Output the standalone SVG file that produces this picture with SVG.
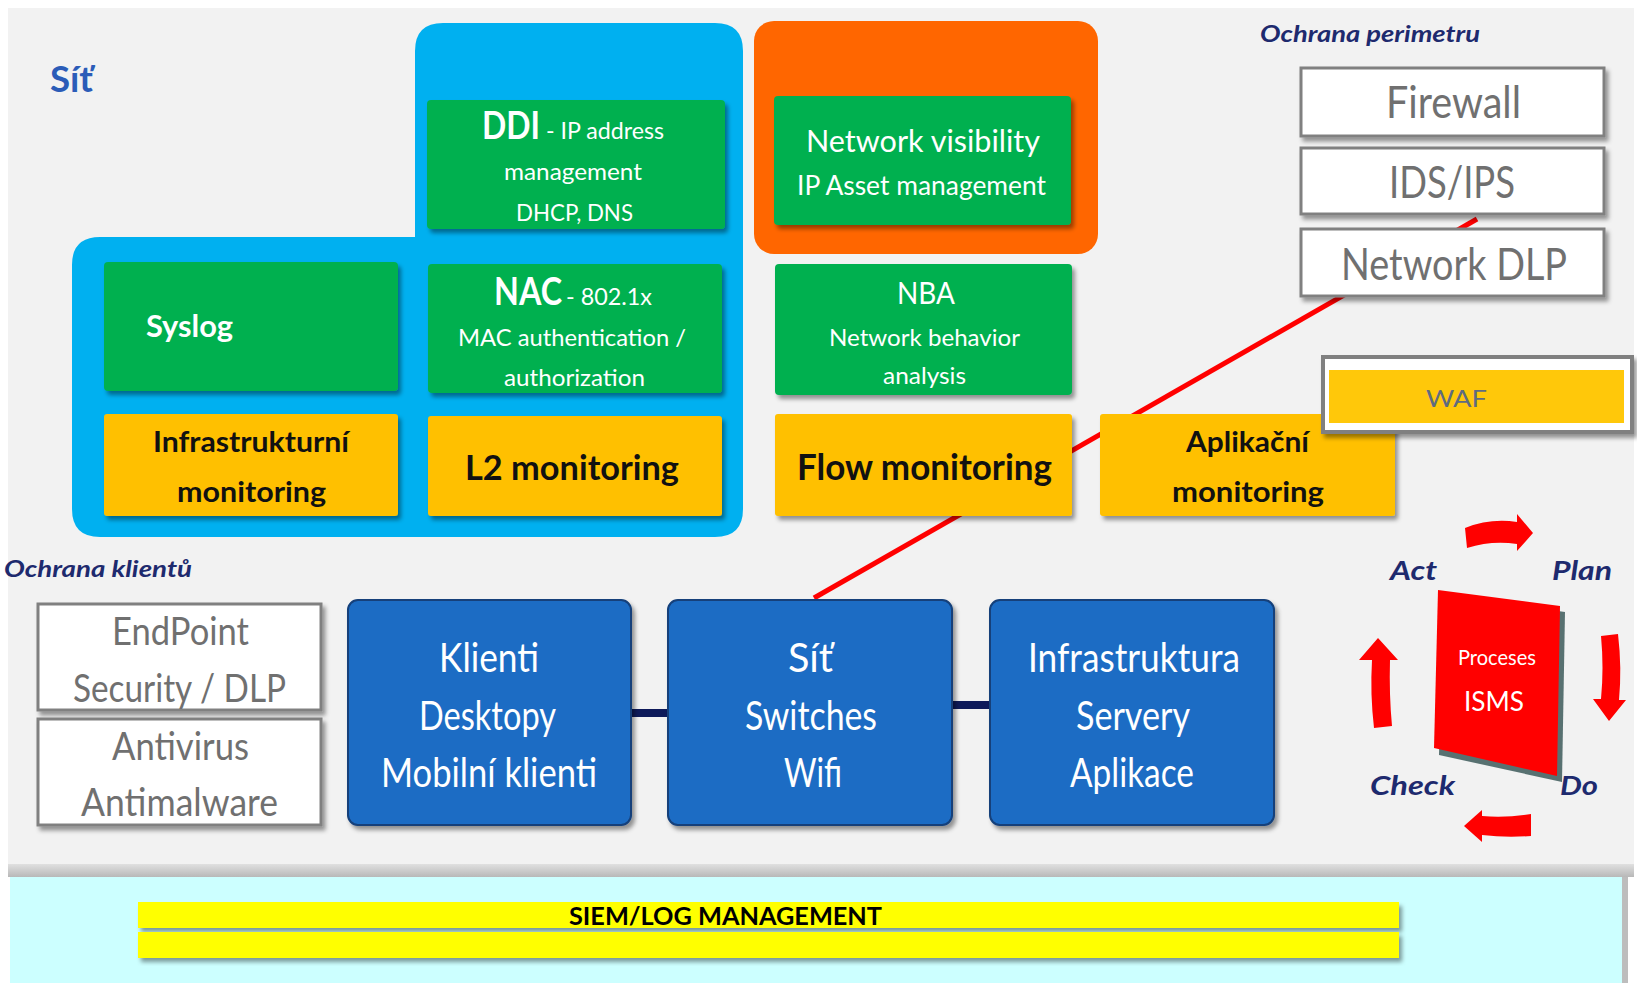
<svg xmlns="http://www.w3.org/2000/svg" width="1637" height="983" viewBox="0 0 1637 983">
<defs>
<style>
.t{font-family:Lato,"Open Sans","Liberation Sans",sans-serif}
.w{fill:#ffffff}
.k{fill:#111111;font-weight:bold}
.g{fill:#707070}
.nv{fill:#1e2a6e;font-weight:bold;font-style:italic}
.green{fill:#00b050}
.yel{fill:#ffc000}
.blue{fill:#1c6cc4;stroke:#123f7a;stroke-width:2}
.wbox{fill:#ffffff;stroke:#808080;stroke-width:3}
.arr{fill:#ff0000}
</style>
<filter id="sh" x="-10%" y="-10%" width="130%" height="140%">
<feDropShadow dx="3" dy="4" stdDeviation="2" flood-color="#000000" flood-opacity="0.4"/>
</filter>
<linearGradient id="bot" x1="0" y1="0" x2="0" y2="1">
<stop offset="0" stop-color="#e0e0e0"/>
<stop offset="1" stop-color="#b8b8b8"/>
</linearGradient>
</defs>
<rect x="0" y="0" width="1637" height="983" fill="#ffffff"/>
<rect x="8" y="8" width="1626" height="858" fill="#f2f2f2"/>
<rect x="8" y="864" width="1626" height="13" fill="url(#bot)"/>
<rect x="10" y="877" width="1612" height="106" fill="#ccffff"/>
<rect x="1622" y="877" width="6" height="106" fill="#bdbdbd"/>

<!-- containers -->
<g id="net-container">
<path d="M 443,23 H 715 Q 743,23 743,51 V 509 Q 743,537 715,537 H 100 Q 72,537 72,509 V 265 Q 72,237 100,237 H 415 V 51 Q 415,23 443,23 Z" fill="#00b0f0"/>
<text class="t" x="50" y="92" font-size="36" font-weight="bold" fill="#2b5cb8" textLength="43" lengthAdjust="spacingAndGlyphs">Síť</text>
</g>
<g id="orange-container">
<rect x="754" y="21" width="344" height="233" rx="20" fill="#ff6600"/>
</g>

<!-- connectors -->
<g id="connectors">
<line x1="1477" y1="219" x2="814" y2="598" stroke="#ff0000" stroke-width="5"/>
<rect x="630" y="709" width="40" height="8" fill="#0e1a5a"/>
<rect x="950" y="701" width="42" height="8" fill="#0e1a5a"/>
</g>

<g id="ddi">
<rect x="427" y="100" width="298" height="129" rx="4" class="green" filter="url(#sh)"/>
<text class="t w" x="482" y="139" font-size="38" font-weight="bold" textLength="58" lengthAdjust="spacingAndGlyphs">DDI</text>
<text class="t w" x="546" y="139" font-size="24" textLength="118" lengthAdjust="spacingAndGlyphs">- IP address</text>
<text class="t w" x="504" y="180" font-size="24" textLength="138" lengthAdjust="spacingAndGlyphs">management</text>
<text class="t w" x="516" y="221" font-size="24" textLength="117" lengthAdjust="spacingAndGlyphs">DHCP, DNS</text>
</g>
<g id="syslog">
<rect x="104" y="262" width="294" height="129" rx="4" class="green" filter="url(#sh)"/>
<text class="t w" x="146" y="337" font-size="30" font-weight="bold" textLength="87" lengthAdjust="spacingAndGlyphs">Syslog</text>
</g>
<g id="nac">
<rect x="428" y="264" width="294" height="129" rx="4" class="green" filter="url(#sh)"/>
<text class="t w" x="494" y="305" font-size="38" font-weight="bold" textLength="68" lengthAdjust="spacingAndGlyphs">NAC</text>
<text class="t w" x="566" y="305" font-size="24" textLength="86" lengthAdjust="spacingAndGlyphs">- 802.1x</text>
<text class="t w" x="458" y="346" font-size="24" textLength="228" lengthAdjust="spacingAndGlyphs">MAC authentication /</text>
<text class="t w" x="504" y="386" font-size="24" textLength="141" lengthAdjust="spacingAndGlyphs">authorization</text>
</g>
<g id="infra-mon">
<rect x="104" y="414" width="294" height="102" rx="3" class="yel" filter="url(#sh)"/>
<text class="t k" x="153" y="452" font-size="28" textLength="196" lengthAdjust="spacingAndGlyphs">Infrastrukturní</text>
<text class="t k" x="177" y="502" font-size="28" textLength="149" lengthAdjust="spacingAndGlyphs">monitoring</text>
</g>
<g id="l2-mon">
<rect x="428" y="416" width="294" height="100" rx="3" class="yel" filter="url(#sh)"/>
<text class="t k" x="465" y="480" font-size="35" textLength="214" lengthAdjust="spacingAndGlyphs">L2 monitoring</text>
</g>
<g id="netvis">
<rect x="774" y="96" width="297" height="129" rx="4" class="green" filter="url(#sh)"/>
<text class="t w" x="806" y="152" font-size="30" textLength="234" lengthAdjust="spacingAndGlyphs">Network visibility</text>
<text class="t w" x="797" y="195" font-size="27" textLength="249" lengthAdjust="spacingAndGlyphs">IP Asset management</text>
</g>
<g id="nba">
<rect x="775" y="264" width="297" height="131" rx="4" class="green" filter="url(#sh)"/>
<text class="t w" x="897" y="304" font-size="30" textLength="58" lengthAdjust="spacingAndGlyphs">NBA</text>
<text class="t w" x="829" y="346" font-size="24" textLength="191" lengthAdjust="spacingAndGlyphs">Network behavior</text>
<text class="t w" x="883" y="384" font-size="24" textLength="83" lengthAdjust="spacingAndGlyphs">analysis</text>
</g>
<g id="flow-mon">
<rect x="775" y="414" width="297" height="102" rx="3" class="yel" filter="url(#sh)"/>
<text class="t k" x="797" y="480" font-size="36" textLength="255" lengthAdjust="spacingAndGlyphs">Flow monitoring</text>
</g>
<g id="app-mon">
<rect x="1100" y="414" width="295" height="102" rx="3" class="yel" filter="url(#sh)"/>
<text class="t k" x="1186" y="452" font-size="28" textLength="123" lengthAdjust="spacingAndGlyphs">Aplikační</text>
<text class="t k" x="1172" y="502" font-size="28" textLength="152" lengthAdjust="spacingAndGlyphs">monitoring</text>
</g>

<g id="perimetr-label">
<text class="t nv" x="1260" y="42" font-size="22" textLength="220" lengthAdjust="spacingAndGlyphs">Ochrana perimetru</text>
</g>
<g id="firewall">
<rect x="1301" y="68" width="303" height="68" class="wbox" filter="url(#sh)"/>
<text class="t g" x="1386" y="118" font-size="44" textLength="135" lengthAdjust="spacingAndGlyphs">Firewall</text>
</g>
<g id="idsips">
<rect x="1301" y="148" width="303" height="66" class="wbox" filter="url(#sh)"/>
<text class="t g" x="1389" y="198" font-size="44" textLength="126" lengthAdjust="spacingAndGlyphs">IDS/IPS</text>
</g>
<g id="netdlp">
<rect x="1301" y="229" width="303" height="67" class="wbox" filter="url(#sh)"/>
<text class="t g" x="1341" y="280" font-size="44" textLength="226" lengthAdjust="spacingAndGlyphs">Network DLP</text>
</g>
<g id="waf">
<rect x="1323" y="357" width="309" height="75" fill="#ffffff" stroke="#808080" stroke-width="4" filter="url(#sh)"/>
<rect x="1329" y="370" width="295" height="53" fill="#ffc80a"/>
<text class="t" x="1426" y="407" font-size="24" fill="#5f6b80" textLength="61" lengthAdjust="spacingAndGlyphs">WAF</text>
</g>

<g id="klienti-label">
<text class="t nv" x="4" y="577" font-size="22" textLength="188" lengthAdjust="spacingAndGlyphs">Ochrana klientů</text>
</g>
<g id="endpoint">
<rect x="38" y="604" width="283" height="106" class="wbox" filter="url(#sh)"/>
<text class="t g" x="112" y="645" font-size="38" textLength="137" lengthAdjust="spacingAndGlyphs">EndPoint</text>
<text class="t g" x="73" y="702" font-size="38" textLength="213" lengthAdjust="spacingAndGlyphs">Security / DLP</text>
</g>
<g id="antivirus">
<rect x="38" y="719" width="283" height="106" class="wbox" filter="url(#sh)"/>
<text class="t g" x="112" y="760" font-size="38" textLength="137" lengthAdjust="spacingAndGlyphs">Antivirus</text>
<text class="t g" x="81" y="816" font-size="38" textLength="197" lengthAdjust="spacingAndGlyphs">Antimalware</text>
</g>
<g id="klienti">
<rect x="348" y="600" width="283" height="225" rx="10" class="blue" filter="url(#sh)"/>
<text class="t w" x="439" y="672" font-size="40" textLength="100" lengthAdjust="spacingAndGlyphs">Klienti</text>
<text class="t w" x="419" y="730" font-size="40" textLength="137" lengthAdjust="spacingAndGlyphs">Desktopy</text>
<text class="t w" x="381" y="787" font-size="40" textLength="216" lengthAdjust="spacingAndGlyphs">Mobilní klienti</text>
</g>
<g id="sit">
<rect x="668" y="600" width="284" height="225" rx="10" class="blue" filter="url(#sh)"/>
<text class="t w" x="788" y="672" font-size="40" textLength="45" lengthAdjust="spacingAndGlyphs">Síť</text>
<text class="t w" x="745" y="730" font-size="40" textLength="132" lengthAdjust="spacingAndGlyphs">Switches</text>
<text class="t w" x="784" y="787" font-size="40" textLength="58" lengthAdjust="spacingAndGlyphs">Wifi</text>
</g>
<g id="infrastruktura">
<rect x="990" y="600" width="284" height="225" rx="10" class="blue" filter="url(#sh)"/>
<text class="t w" x="1028" y="672" font-size="40" textLength="212" lengthAdjust="spacingAndGlyphs">Infrastruktura</text>
<text class="t w" x="1076" y="730" font-size="40" textLength="114" lengthAdjust="spacingAndGlyphs">Servery</text>
<text class="t w" x="1070" y="787" font-size="40" textLength="124" lengthAdjust="spacingAndGlyphs">Aplikace</text>
</g>

<g id="pdca">
<path class="arr" d="M1465,528 Q1490,518 1517,522 L1517,514 L1533,533 L1517,551 L1517,544 Q1492,540 1467,548 Z"/>
<path class="arr" d="M1601,636 L1618,634 Q1622,668 1619,700 L1626,700 L1609,721 L1593,699 L1601,699 Q1604,668 1601,636 Z"/>
<path class="arr" d="M1531,814 Q1506,818 1482,816 L1482,810 L1464,826 L1482,842 L1482,835 Q1506,838 1531,836 Z"/>
<path class="arr" d="M1392,726 L1374,728 Q1370,694 1372,660 L1359,660 L1378,638 L1398,660 L1390,660 Q1389,694 1392,726 Z"/>
<polygon points="1443,595 1565,612 1562,782 1439,755" fill="#3d5a5a" opacity="0.85"/>
<polygon points="1438,590 1560,606 1557,776 1434,748" fill="#ff0000"/>
<text class="t w" x="1497" y="665" font-size="22" text-anchor="middle" textLength="78" lengthAdjust="spacingAndGlyphs">Proceses</text>
<text class="t w" x="1494" y="711" font-size="27" text-anchor="middle" textLength="60" lengthAdjust="spacingAndGlyphs">ISMS</text>
<text class="t nv" x="1390" y="580" font-size="26" textLength="47" lengthAdjust="spacingAndGlyphs">Act</text>
<text class="t nv" x="1552" y="580" font-size="26" textLength="60" lengthAdjust="spacingAndGlyphs">Plan</text>
<text class="t nv" x="1370" y="795" font-size="26" textLength="85" lengthAdjust="spacingAndGlyphs">Check</text>
<text class="t nv" x="1560" y="795" font-size="26" textLength="38" lengthAdjust="spacingAndGlyphs">Do</text>
</g>

<g id="siem">
<rect x="138" y="902" width="1261" height="26" fill="#ffff00" filter="url(#sh)"/>
<rect x="138" y="932" width="1261" height="26" fill="#ffff00" filter="url(#sh)"/>
<text class="t" x="569" y="925" font-size="25" font-weight="bold" fill="#000000" textLength="313" lengthAdjust="spacingAndGlyphs">SIEM/LOG MANAGEMENT</text>
</g>
</svg>
